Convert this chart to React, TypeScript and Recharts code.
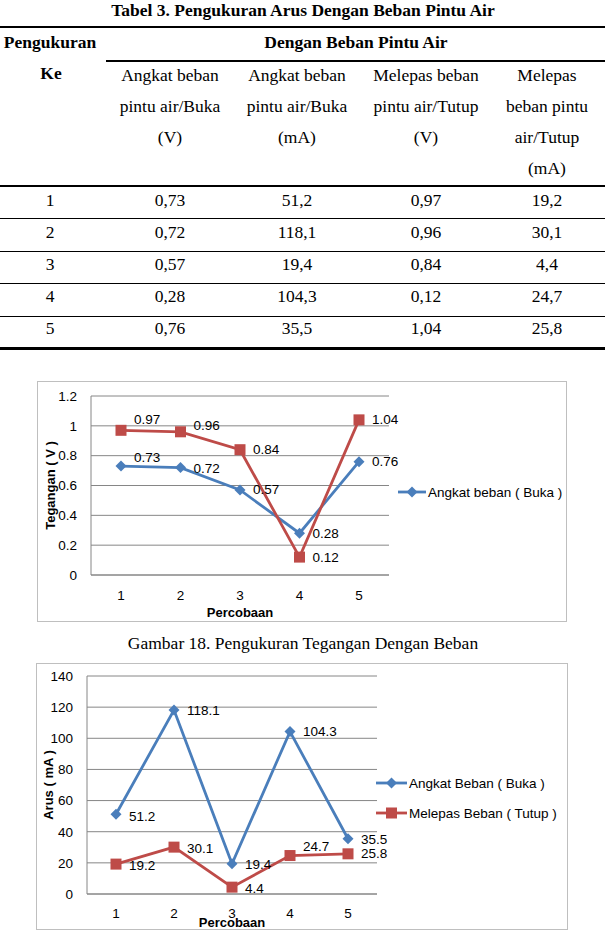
import React from 'react';
import { LineChart, Line, XAxis, YAxis, CartesianGrid, LabelList } from 'recharts';

// data from Tabel 3
const percobaan = ['1', '2', '3', '4', '5'];
const teganganBuka = [0.73, 0.72, 0.57, 0.28, 0.76];
const teganganTutup = [0.97, 0.96, 0.84, 0.12, 1.04];
const arusBuka = [51.2, 118.1, 19.4, 104.3, 35.5];
const arusTutup = [19.2, 30.1, 4.4, 24.7, 25.8];

const teganganTicks = [0, 0.2, 0.4, 0.6, 0.8, 1, 1.2];
const arusTicks = [0, 20, 40, 60, 80, 100, 120, 140];

const headerKolom = [
  ['Angkat beban', 'pintu air/Buka', '(V)'],
  ['Angkat beban', 'pintu air/Buka', '(mA)'],
  ['Melepas beban', 'pintu air/Tutup', '(V)'],
  ['Melepas', 'beban pintu', 'air/Tutup', '(mA)'],
];

const BLUE = '#4A7EBB';
const RED = '#BE4B48';
const GRID = '#868686';
const SANS = '"Liberation Sans", Arial, sans-serif';
const SERIF = '"Liberation Serif", "Times New Roman", serif';
const FS = 13.5;

const tableCols = [
  { values: teganganBuka, digits: 2 },
  { values: arusBuka, digits: 1 },
  { values: teganganTutup, digits: 2 },
  { values: arusTutup, digits: 1 },
];
const colCenters = [170, 297, 426, 547];
const rowCenters = [200, 232, 264, 296, 328];

const data1 = percobaan.map((p, i) => ({ x: p, buka: teganganBuka[i], tutup: teganganTutup[i] }));
const data2 = percobaan.map((p, i) => ({ x: p, buka: arusBuka[i], tutup: arusTutup[i] }));

const fmt = (v: number, d: number) => v.toFixed(d).replace('.', ',');

const T = ({ x, y, children, bold, size = 17.5 }: any) => (
  <div
    style={{
      position: 'absolute', left: x - 300, top: y - 12, width: 600, height: 24, lineHeight: '24px',
      textAlign: 'center', fontWeight: bold ? 'bold' : 'normal', fontSize: size, whiteSpace: 'nowrap',
    }}
  >
    {children}
  </div>
);

const Rule = ({ y, x = 0, w = 605, h = 1 }: any) => (
  <div style={{ position: 'absolute', left: x, top: y, width: w, height: h, background: '#000' }} />
);

const diamond = (props: any) => {
  const { cx, cy, index } = props;
  if (cx == null || cy == null) return <g key={`d${index}`} />;
  return <path key={`d${index}`} d={`M${cx},${cy - 5.5}L${cx + 5.5},${cy}L${cx},${cy + 5.5}L${cx - 5.5},${cy}Z`} fill={BLUE} />;
};

const square = (props: any) => {
  const { cx, cy, index } = props;
  if (cx == null || cy == null) return <g key={`s${index}`} />;
  return <rect key={`s${index}`} x={cx - 5.5} y={cy - 5.5} width={11} height={11} fill={RED} />;
};

// label to the right of the point, with a small vertical nudge per point
const rightLabel = (nudge: number[]) => (props: any) => {
  const px = props.x ?? props.viewBox?.x;
  const py = props.y ?? props.viewBox?.y;
  if (px == null || py == null) return null;
  return (
    <text x={px + 13} y={py + (nudge[props.index] || 0)} dominantBaseline="central" fontSize={FS} fill="#000" fontFamily={SANS}>
      {props.value}
    </text>
  );
};

const LegendItem = ({ x, y, lineW, color, marker, text }: any) => (
  <div style={{ position: 'absolute', left: x, top: y - 10, height: 20, display: 'flex', alignItems: 'center', fontFamily: SANS, fontSize: FS, whiteSpace: 'nowrap' }}>
    <svg width={lineW} height={20} style={{ display: 'block' }}>
      <line x1={0} y1={10} x2={lineW} y2={10} stroke={color} strokeWidth={2.8} />
      {marker === 'diamond' ? (
        <path d={`M${lineW / 2},4.5L${lineW / 2 + 5.5},10L${lineW / 2},15.5L${lineW / 2 - 5.5},10Z`} fill={color} />
      ) : (
        <rect x={lineW / 2 - 5.5} y={4.5} width={11} height={11} fill={color} />
      )}
    </svg>
    <span style={{ marginLeft: 2 }}>{text}</span>
  </div>
);

const Frame = ({ x, y, w, h }: any) => (
  <div style={{ position: 'absolute', left: x, top: y, width: w, height: h, boxSizing: 'border-box', border: '1px solid #BFBFBF' }} />
);

export default function App() {
  return (
    <div style={{ position: 'absolute', left: 0, top: 0, width: 605, height: 940, background: '#fff', fontFamily: SERIF, color: '#000', overflow: 'hidden' }}>
      {/* table */}
      <T x={303} y={10} bold>Tabel 3. Pengukuran Arus Dengan Beban Pintu Air</T>
      <Rule y={26} h={2} />
      <T x={50} y={42} bold>Pengukuran</T>
      <T x={51} y={73} bold>Ke</T>
      <T x={356} y={42} bold>Dengan Beban Pintu Air</T>
      <Rule y={60} x={106} w={499} h={2} />
      {headerKolom.map((lines, c) =>
        lines.map((t, r) => (
          <T key={`h${c}-${r}`} x={colCenters[c]} y={75 + r * 31}>{t}</T>
        ))
      )}
      <Rule y={185} h={2} />
      {percobaan.map((p, r) => (
        <React.Fragment key={`r${r}`}>
          <T x={50} y={rowCenters[r]}>{p}</T>
          {tableCols.map((col, c) => (
            <T key={`c${c}`} x={colCenters[c]} y={rowCenters[r]}>{fmt(col.values[r], col.digits)}</T>
          ))}
          {r < percobaan.length - 1 && <Rule y={218 + r * 32.5} h={1} />}
        </React.Fragment>
      ))}
      <Rule y={347} h={3} />

      {/* chart 1: tegangan */}
      <Frame x={37} y={381} w={530} h={241} />
      <div style={{ position: 'absolute', left: 37, top: 381 }}>
        <LineChart width={530} height={241} data={data1} margin={{ top: 15, right: 178, bottom: 0, left: 4 }} style={{ fontFamily: SANS }}>
          <CartesianGrid vertical={false} stroke={GRID} />
          <XAxis
            dataKey="x" type="category" padding={{ left: 30, right: 30 }} height={47}
            tickLine={false} tickSize={0} tickMargin={15} axisLine={{ stroke: GRID }}
            tick={{ fill: '#000', fontSize: FS }}
            label={{ value: 'Percobaan', position: 'insideBottom', offset: 5, style: { fontWeight: 'bold', fontSize: 13, fill: '#000' } }}
          />
          <YAxis
            domain={[0, 1.2]} ticks={teganganTicks} width={50}
            tickLine={false} tickSize={0} tickMargin={14} axisLine={{ stroke: GRID }}
            tick={{ fill: '#000', fontSize: FS }}
            label={{ value: 'Tegangan ( V )', angle: -90, position: 'insideLeft', offset: 9, style: { textAnchor: 'middle', fontWeight: 'bold', fontSize: 13, fill: '#000' } }}
          />
          <Line dataKey="buka" type="linear" stroke={BLUE} strokeWidth={2.8} dot={diamond} activeDot={false} isAnimationActive={false}>
            <LabelList dataKey="buka" content={rightLabel([-9, 1, 0, 0, 0])} />
          </Line>
          <Line dataKey="tutup" type="linear" stroke={RED} strokeWidth={2.8} dot={square} activeDot={false} isAnimationActive={false}>
            <LabelList dataKey="tutup" content={rightLabel([-11, -6, 0, 0, 0])} />
          </Line>
        </LineChart>
      </div>
      <LegendItem x={398} y={492} lineW={28} color={BLUE} marker="diamond" text="Angkat beban ( Buka )" />

      <T x={303} y={643}>Gambar 18. Pengukuran Tegangan Dengan Beban</T>

      {/* chart 2: arus */}
      <Frame x={36} y={663} w={532} h={267} />
      <div style={{ position: 'absolute', left: 36, top: 663 }}>
        <LineChart width={532} height={267} data={data2} margin={{ top: 13, right: 191, bottom: 0, left: 4 }} style={{ fontFamily: SANS }}>
          <CartesianGrid vertical={false} stroke={GRID} />
          <XAxis
            dataKey="x" type="category" padding={{ left: 29, right: 29 }} height={36}
            tickLine={false} tickSize={0} tickMargin={14} axisLine={{ stroke: GRID }}
            tick={{ fill: '#000', fontSize: FS }}
            label={{ value: 'Percobaan', position: 'insideBottom', offset: 3, style: { fontWeight: 'bold', fontSize: 13, fill: '#000' } }}
          />
          <YAxis
            domain={[0, 140]} ticks={arusTicks} width={47}
            tickLine={false} tickSize={0} tickMargin={14} axisLine={{ stroke: GRID }}
            tick={{ fill: '#000', fontSize: FS }}
            label={{ value: 'Arus ( mA )', angle: -90, position: 'insideLeft', offset: 8, style: { textAnchor: 'middle', fontWeight: 'bold', fontSize: 13, fill: '#000' } }}
          />
          <Line dataKey="buka" type="linear" stroke={BLUE} strokeWidth={2.8} dot={diamond} activeDot={false} isAnimationActive={false}>
            <LabelList dataKey="buka" content={rightLabel([2, 0, 1, 0, 1])} />
          </Line>
          <Line dataKey="tutup" type="linear" stroke={RED} strokeWidth={2.8} dot={square} activeDot={false} isAnimationActive={false}>
            <LabelList dataKey="tutup" content={rightLabel([1, 1, 1, -9, 0])} />
          </Line>
        </LineChart>
      </div>
      <LegendItem x={376} y={783} lineW={31} color={BLUE} marker="diamond" text="Angkat Beban ( Buka )" />
      <LegendItem x={376} y={813} lineW={31} color={RED} marker="square" text="Melepas Beban ( Tutup )" />
    </div>
  );
}
